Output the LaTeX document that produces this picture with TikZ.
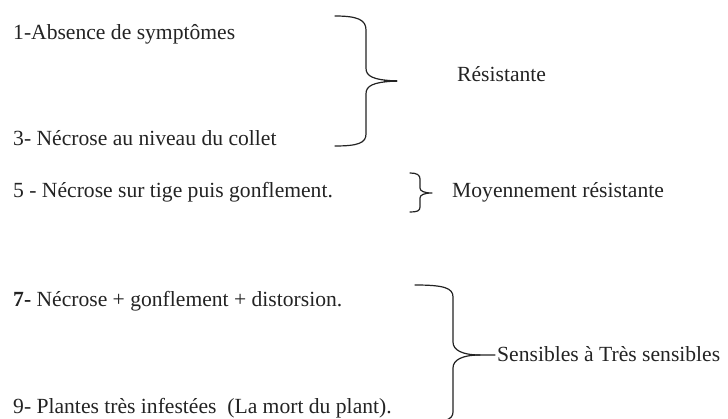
\documentclass[tikz,border=0pt]{standalone}
\usepackage{fontspec}
\setmainfont{Liberation Serif}
\definecolor{ink}{RGB}{35,35,35}
\begin{document}
\begin{tikzpicture}[x=1pt,y=-1pt,
  lbl/.style={anchor=base west,inner sep=0pt,text=ink,font=\fontsize{21.6}{24}\selectfont},
  brace/.style={draw=ink,line width=1.2pt,line join=round,line cap=round}]
\useasboundingbox (0,0) rectangle (728,419);
% left texts
\node[lbl] (t1) at (13,40) {1-Absence de symptômes};
\node[lbl] (t3) at (13,146) {3- Nécrose au niveau du collet};
\node[lbl] (t5) at (13,198) {5 - Nécrose sur tige puis gonflement.};
\node[lbl] (t7) at (13,307) {\textbf{7-} Nécrose + gonflement + distorsion.};
\node[lbl] (t9) at (13,413) {9- Plantes très infestées\ \ (La\ mort\ du\ plant).};
% right texts
\node[lbl] (r1) at (457,82) {Résistante};
\node[lbl] (r2) at (452,198) {Moyennement résistante};
\node[lbl] (r3) at (497,362) {Sensibles à Très sensibles};
% brace 1
\coordinate (b1tip) at (397,81);
\path[brace] (335,16) .. controls (358,16) and (366,20) .. (366,30) -- (366,68)
  .. controls (366,76) and (372,80) .. (b1tip)
  .. controls (372,82) and (366,86) .. (366,94) -- (366,134)
  .. controls (366,143) and (358,146) .. (335,146);
\draw[ink,line width=2.4pt] (384,81) -- (b1tip);
% brace 2
\coordinate (b2tip) at (432,193);
\path[brace] (410,173) .. controls (417,173) and (420,175) .. (420,179) -- (420,188)
  .. controls (420,191) and (424,193) .. (b2tip)
  .. controls (424,193) and (420,195) .. (420,198) -- (420,207)
  .. controls (420,211) and (417,212) .. (410,212);
% brace 3
\coordinate (b3tip) at (495,355);
\path[brace] (415,285) .. controls (444,285) and (453,288) .. (453,297) -- (453,342)
  .. controls (453,350) and (462,355) .. (480,355) -- (b3tip);
\path[brace] (480,355) .. controls (462,355) and (453,360) .. (453,368) -- (453,412)
  .. controls (453,420) and (444,423) .. (415,424);
\end{tikzpicture}
\end{document}
